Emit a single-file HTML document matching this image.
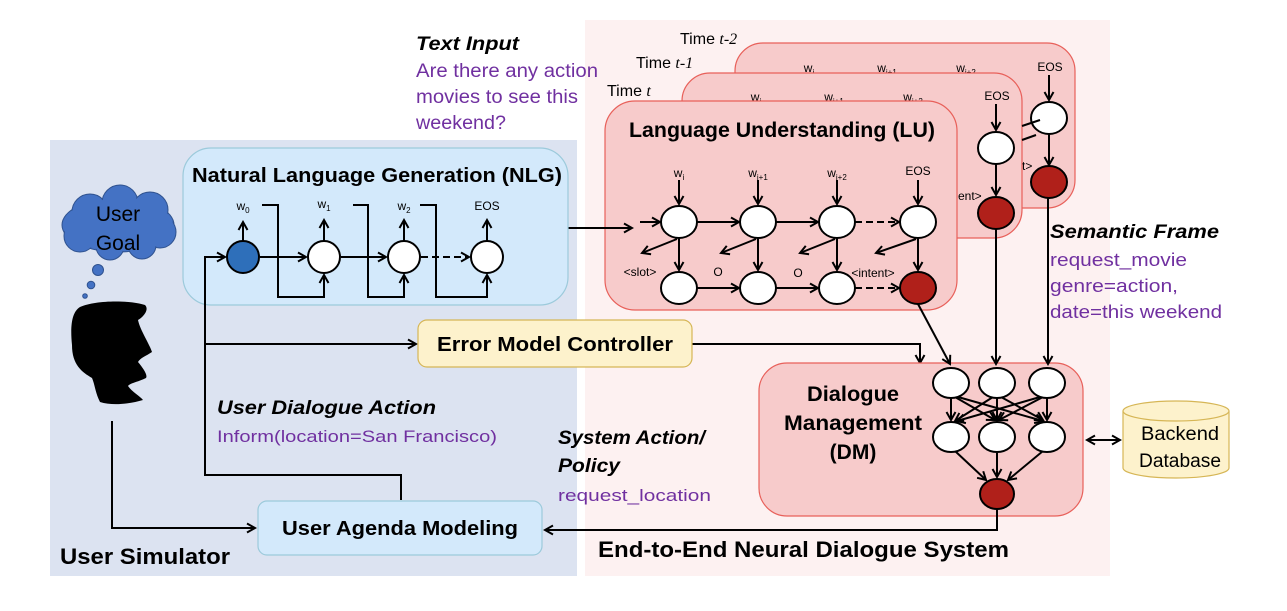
<!DOCTYPE html>
<html><head><meta charset="utf-8"><style>
html,body{margin:0;padding:0;background:#fff;}
svg{display:block;}
text{font-family:"Liberation Sans",sans-serif;}
.b{font-weight:bold;}
.p{fill:#7030a0;}
</style></head><body>
<svg width="1287" height="611" viewBox="0 0 1287 611" xmlns="http://www.w3.org/2000/svg">
<defs>
<marker id="a" markerWidth="12" markerHeight="12" refX="10" refY="6" orient="auto" markerUnits="userSpaceOnUse">
<path d="M2,1.5 L10,6 L2,10.5" fill="none" stroke="#000" stroke-width="2"/>
</marker>
</defs>
<rect x="50" y="140" width="527" height="436" fill="#dce3f1"/>
<rect x="585" y="20" width="525" height="556" fill="#fdf1f1"/>

<rect x="735" y="43" width="340" height="165" rx="28" fill="#f7cbcb" stroke="#e8605a" stroke-width="1.2"/>
<g font-size="12" text-anchor="middle">
<text x="809" y="72">w<tspan font-size="8" dy="3">i</tspan></text>
<text x="887" y="72">w<tspan font-size="8" dy="3">i+1</tspan></text>
<text x="966" y="72">w<tspan font-size="8" dy="3">i+2</tspan></text>
<text x="1050" y="71">EOS</text>
</g>
<line x1="1049" y1="75" x2="1049" y2="100" stroke="#000" stroke-width="2" marker-end="url(#a)"/>
<ellipse cx="1049" cy="118" rx="18" ry="16" fill="#fff" stroke="#000" stroke-width="2"/>
<line x1="1049" y1="134" x2="1049" y2="165" stroke="#000" stroke-width="2" marker-end="url(#a)"/>
<ellipse cx="1049" cy="182" rx="18" ry="16" fill="#b0201a" stroke="#000" stroke-width="2"/>

<rect x="682" y="73" width="340" height="165" rx="28" fill="#f7cbcb" stroke="#e8605a" stroke-width="1.2"/>
<g font-size="12" text-anchor="middle">
<text x="756" y="101">w<tspan font-size="8" dy="3">i</tspan></text>
<text x="834" y="101">w<tspan font-size="8" dy="3">i+1</tspan></text>
<text x="913" y="101">w<tspan font-size="8" dy="3">i+2</tspan></text>
<text x="997" y="100">EOS</text>
</g>
<line x1="996" y1="104" x2="996" y2="130" stroke="#000" stroke-width="2" marker-end="url(#a)"/>
<ellipse cx="996" cy="148" rx="18" ry="16" fill="#fff" stroke="#000" stroke-width="2"/>
<line x1="996" y1="164" x2="996" y2="195" stroke="#000" stroke-width="2" marker-end="url(#a)"/>
<ellipse cx="996" cy="213" rx="18" ry="16" fill="#b0201a" stroke="#000" stroke-width="2"/>
<line x1="1022" y1="126" x2="1040" y2="120" stroke="#000" stroke-width="2"/>
<text x="1022" y="170" font-size="12">t&gt;</text>
<text x="958" y="200" font-size="12">ent&gt;</text>
<line x1="1036" y1="135" x2="1022" y2="140" stroke="#000" stroke-width="2"/>

<text x="680" y="44" font-size="16">Time <tspan font-family="Liberation Serif" font-style="italic">t-2</tspan></text>
<text x="636" y="68" font-size="16">Time <tspan font-family="Liberation Serif" font-style="italic">t-1</tspan></text>
<text x="607" y="96" font-size="16">Time <tspan font-family="Liberation Serif" font-style="italic">t</tspan></text>

<rect x="605" y="101" width="352" height="209" rx="30" fill="#f7cbcb" stroke="#e8605a" stroke-width="1.2"/>
<text x="782" y="137" font-size="21" class="b" text-anchor="middle" textLength="306" lengthAdjust="spacingAndGlyphs">Language Understanding (LU)</text>
<g font-size="12" text-anchor="middle">
<text x="679" y="177">w<tspan font-size="8" dy="3">i</tspan></text>
<text x="758" y="177">w<tspan font-size="8" dy="3">i+1</tspan></text>
<text x="837" y="177">w<tspan font-size="8" dy="3">i+2</tspan></text>
<text x="918" y="175">EOS</text>
<text x="640" y="276">&lt;slot&gt;</text>
<text x="718" y="276">O</text>
<text x="798" y="277">O</text>
<text x="873" y="277">&lt;intent&gt;</text>
</g>
<g stroke="#000" stroke-width="2" fill="none">
<line x1="568" y1="228" x2="632" y2="228" marker-end="url(#a)"/>
<line x1="640" y1="222" x2="660" y2="222" marker-end="url(#a)"/>
<line x1="679" y1="180" x2="679" y2="204" marker-end="url(#a)"/>
<line x1="758" y1="180" x2="758" y2="204" marker-end="url(#a)"/>
<line x1="837" y1="180" x2="837" y2="204" marker-end="url(#a)"/>
<line x1="918" y1="180" x2="918" y2="204" marker-end="url(#a)"/>
<line x1="697" y1="222" x2="739" y2="222" marker-end="url(#a)"/>
<line x1="776" y1="222" x2="818" y2="222" marker-end="url(#a)"/>
<line x1="855" y1="222" x2="899" y2="222" stroke-dasharray="7,4" marker-end="url(#a)"/>
<line x1="679" y1="238" x2="679" y2="270" marker-end="url(#a)"/>
<line x1="758" y1="238" x2="758" y2="270" marker-end="url(#a)"/>
<line x1="837" y1="238" x2="837" y2="270" marker-end="url(#a)"/>
<line x1="918" y1="238" x2="918" y2="270" marker-end="url(#a)"/>
<line x1="677" y1="239" x2="642" y2="253" marker-end="url(#a)"/>
<line x1="756" y1="239" x2="721" y2="253" marker-end="url(#a)"/>
<line x1="835" y1="239" x2="800" y2="253" marker-end="url(#a)"/>
<line x1="916" y1="239" x2="876" y2="253" marker-end="url(#a)"/>
<line x1="697" y1="288" x2="739" y2="288" marker-end="url(#a)"/>
<line x1="776" y1="288" x2="818" y2="288" marker-end="url(#a)"/>
<line x1="855" y1="288" x2="899" y2="288" stroke-dasharray="7,4" marker-end="url(#a)"/>
</g>
<g stroke="#000" stroke-width="2">
<ellipse cx="679" cy="222" rx="18" ry="16" fill="#fff"/>
<ellipse cx="758" cy="222" rx="18" ry="16" fill="#fff"/>
<ellipse cx="837" cy="222" rx="18" ry="16" fill="#fff"/>
<ellipse cx="918" cy="222" rx="18" ry="16" fill="#fff"/>
<ellipse cx="679" cy="288" rx="18" ry="16" fill="#fff"/>
<ellipse cx="758" cy="288" rx="18" ry="16" fill="#fff"/>
<ellipse cx="837" cy="288" rx="18" ry="16" fill="#fff"/>
<ellipse cx="918" cy="288" rx="18" ry="16" fill="#b0201a"/>
</g>

<text x="416" y="50" font-size="19" class="b" font-style="italic" textLength="103" lengthAdjust="spacingAndGlyphs">Text Input</text>
<g font-size="19" class="p">
<text x="416" y="77" textLength="182" lengthAdjust="spacingAndGlyphs">Are there any action</text>
<text x="416" y="103" textLength="162" lengthAdjust="spacingAndGlyphs">movies to see this</text>
<text x="416" y="129" textLength="90" lengthAdjust="spacingAndGlyphs">weekend?</text>
</g>

<rect x="183" y="148" width="385" height="157" rx="28" fill="#d3e9fb" stroke="#9ccadb" stroke-width="1.2"/>
<text x="377" y="182" font-size="20" class="b" text-anchor="middle" textLength="370" lengthAdjust="spacingAndGlyphs">Natural Language Generation (NLG)</text>
<g font-size="12" text-anchor="middle">
<text x="243" y="210">w<tspan font-size="8" dy="3">0</tspan></text>
<text x="324" y="208">w<tspan font-size="8" dy="3">1</tspan></text>
<text x="404" y="210">w<tspan font-size="8" dy="3">2</tspan></text>
<text x="487" y="210">EOS</text>
</g>
<g stroke="#000" stroke-width="2" fill="none">
<polyline points="262,205 278,205 278,297 324,297 324,275" marker-end="url(#a)"/>
<polyline points="353,205 368,205 368,297 404,297 404,275" marker-end="url(#a)"/>
<polyline points="420,205 436,205 436,297 487,297 487,275" marker-end="url(#a)"/>
<line x1="243" y1="241" x2="243" y2="222" marker-end="url(#a)"/>
<line x1="324" y1="241" x2="324" y2="220" marker-end="url(#a)"/>
<line x1="404" y1="241" x2="404" y2="220" marker-end="url(#a)"/>
<line x1="487" y1="241" x2="487" y2="220" marker-end="url(#a)"/>
<line x1="260" y1="257" x2="306" y2="257" marker-end="url(#a)"/>
<line x1="341" y1="257" x2="386" y2="257" marker-end="url(#a)"/>
<line x1="421" y1="257" x2="469" y2="257" stroke-dasharray="7,4" marker-end="url(#a)"/>
<polyline points="401,500 401,475 205,475 205,257 225,257" marker-end="url(#a)"/>
<line x1="205" y1="344" x2="416" y2="344" marker-end="url(#a)"/>
<polyline points="692,344 920,344 920,363" marker-end="url(#a)"/>
</g>
<g stroke="#000" stroke-width="2">
<ellipse cx="243" cy="257" rx="16" ry="16" fill="#2e6fba"/>
<ellipse cx="324" cy="257" rx="16" ry="16" fill="#fff"/>
<ellipse cx="404" cy="257" rx="16" ry="16" fill="#fff"/>
<ellipse cx="487" cy="257" rx="16" ry="16" fill="#fff"/>
</g>

<rect x="418" y="320" width="274" height="47" rx="9" fill="#fdf2cc" stroke="#d6b656" stroke-width="1.2"/>
<text x="555" y="351" font-size="20" class="b" text-anchor="middle" textLength="236" lengthAdjust="spacingAndGlyphs">Error Model Controller</text>

<rect x="759" y="363" width="324" height="153" rx="28" fill="#f7cbcb" stroke="#e8605a" stroke-width="1.2"/>
<g font-size="21" class="b" text-anchor="middle">
<text x="853" y="401" textLength="92" lengthAdjust="spacingAndGlyphs">Dialogue</text>
<text x="853" y="430" textLength="138" lengthAdjust="spacingAndGlyphs">Management</text>
<text x="853" y="459">(DM)</text>
</g>
<g stroke="#000" stroke-width="2" fill="none">
<line x1="918" y1="304" x2="950" y2="364" marker-end="url(#a)"/>
<line x1="996" y1="229" x2="996" y2="364" marker-end="url(#a)"/>
<line x1="1048" y1="198" x2="1048" y2="364" marker-end="url(#a)"/>
<line x1="951" y1="397" x2="951" y2="420" marker-end="url(#a)"/>
<line x1="997" y1="397" x2="997" y2="420" marker-end="url(#a)"/>
<line x1="1047" y1="397" x2="1047" y2="420" marker-end="url(#a)"/>
<line x1="955" y1="397" x2="995" y2="420" marker-end="url(#a)"/>
<line x1="958" y1="397" x2="1043" y2="421" marker-end="url(#a)"/>
<line x1="993" y1="397" x2="955" y2="421" marker-end="url(#a)"/>
<line x1="1001" y1="397" x2="1043" y2="420" marker-end="url(#a)"/>
<line x1="1040" y1="397" x2="957" y2="421" marker-end="url(#a)"/>
<line x1="1043" y1="397" x2="999" y2="420" marker-end="url(#a)"/>
<line x1="955" y1="451" x2="986" y2="480" marker-end="url(#a)"/>
<line x1="997" y1="453" x2="997" y2="477" marker-end="url(#a)"/>
<line x1="1043" y1="451" x2="1008" y2="480" marker-end="url(#a)"/>
<polyline points="997,510 997,530 545,530" marker-end="url(#a)"/>
<line x1="1090" y1="440" x2="1120" y2="440" marker-end="url(#a)"/>
<line x1="1120" y1="440" x2="1087" y2="440" marker-end="url(#a)"/>
</g>
<g stroke="#000" stroke-width="2">
<ellipse cx="951" cy="383" rx="18" ry="15" fill="#fff"/>
<ellipse cx="997" cy="383" rx="18" ry="15" fill="#fff"/>
<ellipse cx="1047" cy="383" rx="18" ry="15" fill="#fff"/>
<ellipse cx="951" cy="437" rx="18" ry="15" fill="#fff"/>
<ellipse cx="997" cy="437" rx="18" ry="15" fill="#fff"/>
<ellipse cx="1047" cy="437" rx="18" ry="15" fill="#fff"/>
<ellipse cx="997" cy="494" rx="17" ry="15" fill="#b0201a"/>
</g>

<path d="M1123,411 L1123,468 A53,10 0 0 0 1229,468 L1229,411" fill="#fdf2cc" stroke="#d6b656" stroke-width="1.2"/>
<ellipse cx="1176" cy="411" rx="53" ry="10" fill="#fdf2cc" stroke="#d6b656" stroke-width="1.2"/>
<text x="1180" y="440" font-size="19" text-anchor="middle" textLength="78" lengthAdjust="spacingAndGlyphs">Backend</text>
<text x="1180" y="467" font-size="19" text-anchor="middle" textLength="82" lengthAdjust="spacingAndGlyphs">Database</text>

<text x="1050" y="238" font-size="19" class="b" font-style="italic" textLength="169" lengthAdjust="spacingAndGlyphs">Semantic Frame</text>
<g font-size="18" class="p">
<text x="1050" y="266" textLength="137" lengthAdjust="spacingAndGlyphs">request_movie</text>
<text x="1050" y="292" textLength="128" lengthAdjust="spacingAndGlyphs">genre=action,</text>
<text x="1050" y="318" textLength="172" lengthAdjust="spacingAndGlyphs">date=this weekend</text>
</g>

<text x="217" y="414" font-size="19" class="b" font-style="italic" textLength="219" lengthAdjust="spacingAndGlyphs">User Dialogue Action</text>
<text x="217" y="442" font-size="17" class="p" textLength="280" lengthAdjust="spacingAndGlyphs">Inform(location=San Francisco)</text>
<text x="558" y="444" font-size="19" class="b" font-style="italic" textLength="147" lengthAdjust="spacingAndGlyphs">System Action/</text>
<text x="558" y="472" font-size="19" class="b" font-style="italic" textLength="62" lengthAdjust="spacingAndGlyphs">Policy</text>
<text x="558" y="501" font-size="17" class="p" textLength="153" lengthAdjust="spacingAndGlyphs">request_location</text>

<rect x="258" y="501" width="284" height="54" rx="9" fill="#d3e9fb" stroke="#9ccadb" stroke-width="1.2"/>
<text x="400" y="535" font-size="20" class="b" text-anchor="middle" textLength="236" lengthAdjust="spacingAndGlyphs">User Agenda Modeling</text>
<polyline points="112,421 112,528 255,528" fill="none" stroke="#000" stroke-width="2" marker-end="url(#a)"/>

<g fill="#4472c4" stroke="#2f528f" stroke-width="1">
<ellipse cx="118" cy="225" rx="56" ry="27"/>
<circle cx="90" cy="212" r="18"/><circle cx="120" cy="203" r="18"/><circle cx="150" cy="210" r="18"/>
<circle cx="160" cy="232" r="16"/><circle cx="80" cy="236" r="16"/><circle cx="110" cy="246" r="14"/><circle cx="142" cy="245" r="14"/>
</g>
<g fill="#4472c4" stroke="none">
<ellipse cx="118" cy="225" rx="55" ry="26"/>
<circle cx="90" cy="212" r="17"/><circle cx="120" cy="203" r="17"/><circle cx="150" cy="210" r="17"/>
<circle cx="160" cy="232" r="15"/><circle cx="80" cy="236" r="15"/><circle cx="110" cy="246" r="13"/><circle cx="142" cy="245" r="13"/>
</g>
<g fill="#4472c4" stroke="#2f528f" stroke-width="1">
<circle cx="98" cy="270" r="5.5"/><circle cx="91" cy="285" r="3.8"/><circle cx="85" cy="296" r="2.3"/>
</g>
<text x="118" y="221" font-size="21" text-anchor="middle" fill="#000">User</text>
<text x="118" y="250" font-size="21" text-anchor="middle" fill="#000">Goal</text>

<path d="M80,307 C95,300 130,300 145,305 C150,310 142,318 138,320 C140,330 150,345 152,352 C146,356 140,358 138,362 C143,368 148,375 146,378 C138,382 130,383 128,386 C132,392 140,396 143,400 C130,404 112,406 100,402 C95,392 95,385 92,378 C82,372 72,365 72,345 C70,325 72,312 80,307 Z" fill="#000"/>

<text x="60" y="564" font-size="22" class="b" textLength="170" lengthAdjust="spacingAndGlyphs">User Simulator</text>
<text x="598" y="557" font-size="22" class="b" textLength="411" lengthAdjust="spacingAndGlyphs">End-to-End Neural Dialogue System</text>
</svg>
</body></html>
